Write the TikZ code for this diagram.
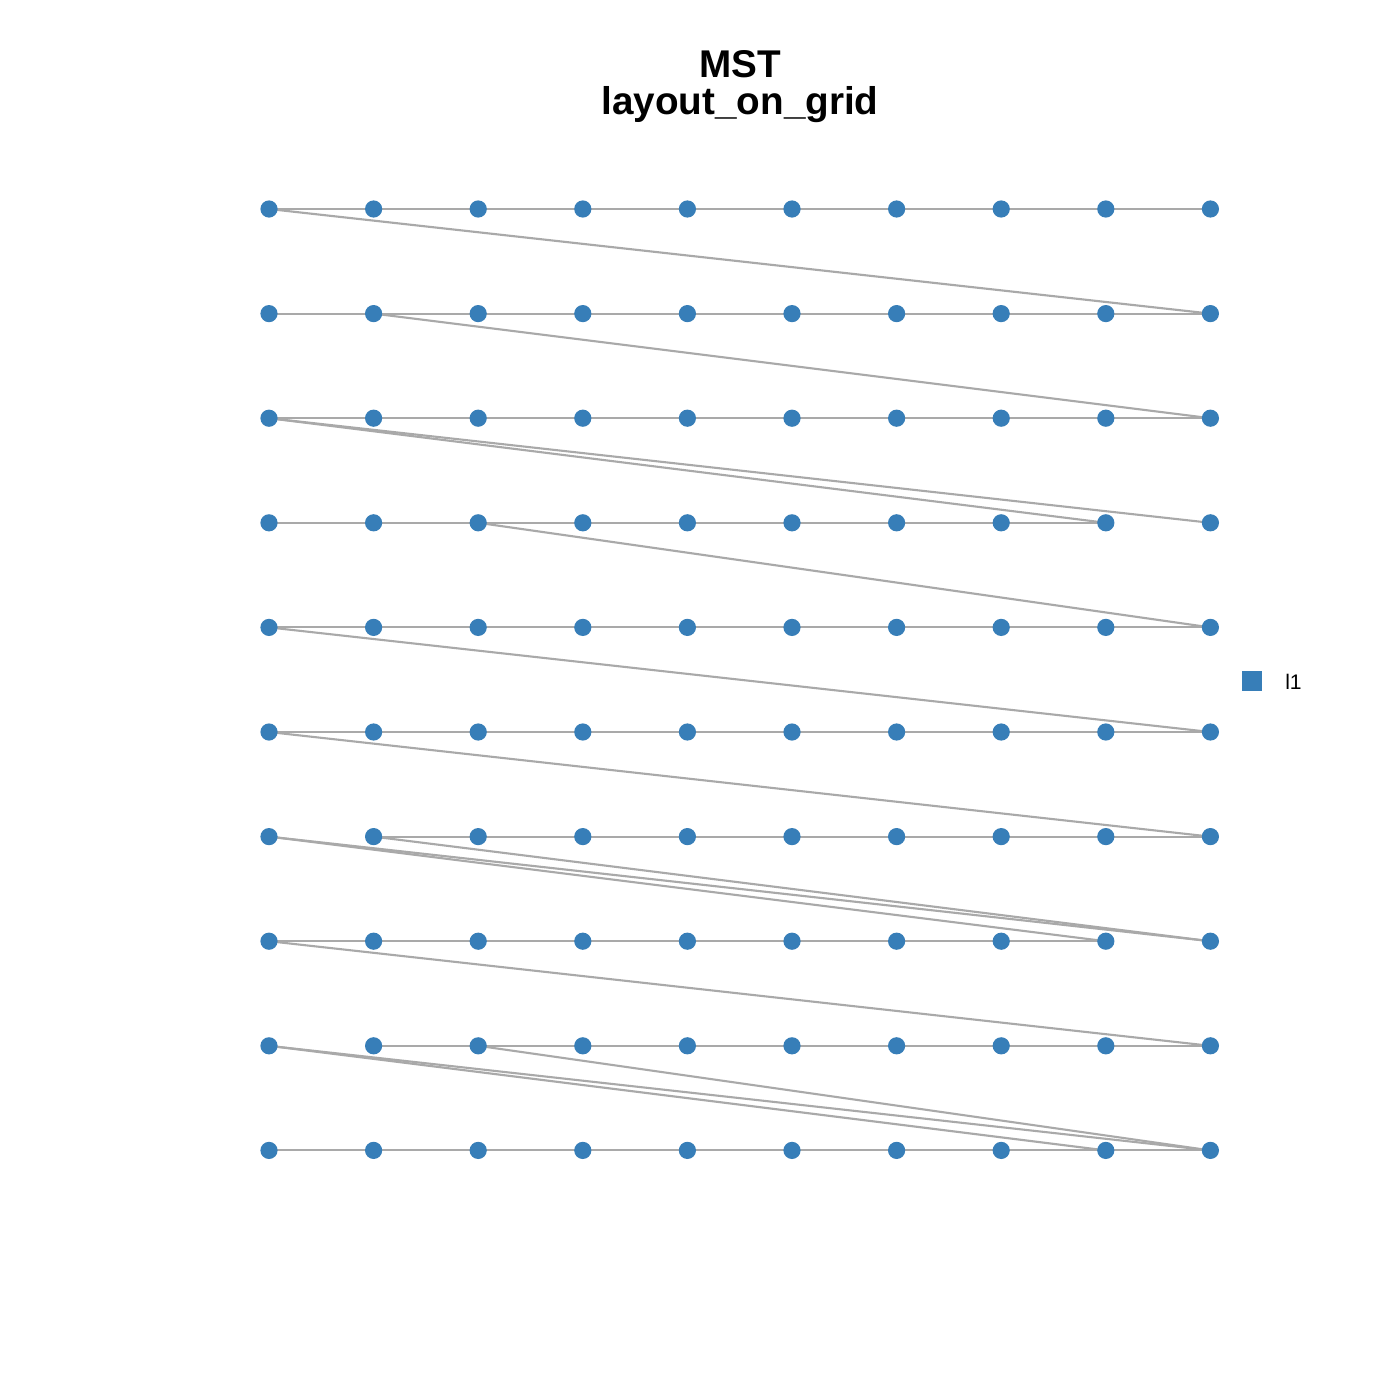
\documentclass[tikz,border=0pt]{standalone}
\usepackage{fontspec}
\setmainfont{Liberation Sans}
\usetikzlibrary{backgrounds}
\definecolor{nodeblue}{HTML}{377EB8}
\definecolor{edgegray}{HTML}{A9A9A9}
\tikzset{
  dot/.style={circle,fill=nodeblue,draw=none,minimum size=0.43cm,inner sep=0pt},
  edge/.style={draw=edgegray,line width=1.5pt},
  titletext/.style={font=\bfseries\fontsize{27.5}{32}\selectfont,anchor=base,inner sep=0pt},
  legendtext/.style={font=\fontsize{15}{18}\selectfont,anchor=base west,inner sep=0pt}
}
\begin{document}
\begin{tikzpicture}[x=0.025cm,y=-0.025cm]
\useasboundingbox (0,0) rectangle (1400,1400);
% nodes
\foreach \r in {1,...,10}{
  \foreach \c in {1,...,10}{
    \node[dot] (n-\r-\c) at ({269+(\c-1)*104.6},{209+(\r-1)*104.6}) {};
  }
}
\begin{scope}[on background layer]
\fill[white] (0,0) rectangle (1400,1400);
% horizontal edges
\foreach \r/\a/\b in {1/1/10,2/1/10,3/1/10,4/1/9,5/1/10,6/1/10,7/2/10,8/1/9,9/2/10,10/1/10}{
  \pgfmathtruncatemacro\bb{\b-1}
  \foreach \c in {\a,...,\bb}{
    \pgfmathtruncatemacro\d{\c+1}
    \draw[edge] (n-\r-\c.center) -- (n-\r-\d.center);
  }
}
% diagonal edges
\foreach \p/\q in {1-1/2-10,2-2/3-10,3-1/4-9,3-1/4-10,4-3/5-10,5-1/6-10,6-1/7-10,7-1/8-9,7-1/8-10,7-2/8-10,8-1/9-10,9-1/10-9,9-1/10-10,9-3/10-10}{
  \draw[edge] (n-\p.center) -- (n-\q.center);
}
\end{scope}
% title
\node[titletext] (t1) at (740,77) {MST};
\node[titletext] (t2) at (740,115) {layout\_on\_grid};
% legend
\node[fill=nodeblue,draw=none,minimum size=0.5cm,inner sep=0pt] (lgkey) at (1252,681) {};
\node[legendtext] (lgtext) at (1285,689) {l1};
\end{tikzpicture}
\end{document}
